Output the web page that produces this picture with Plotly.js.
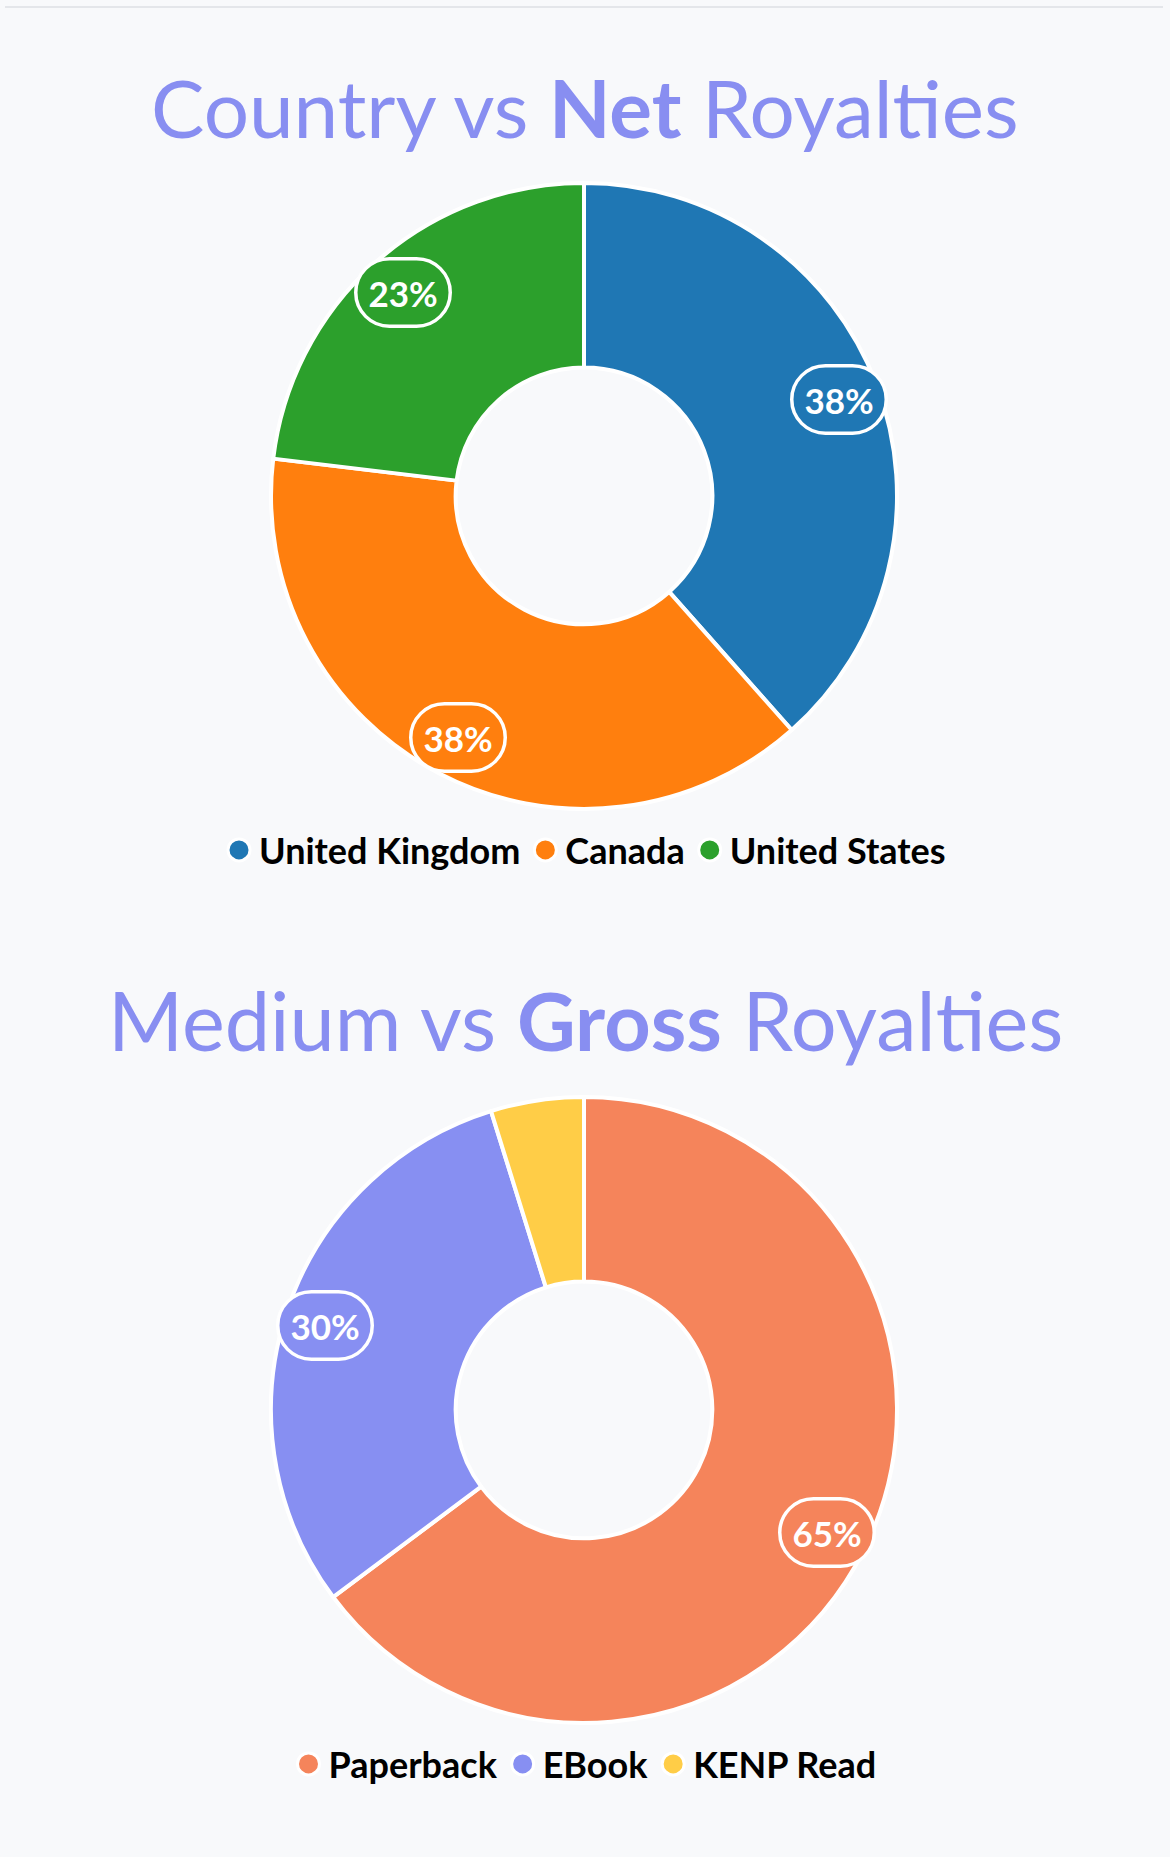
<!DOCTYPE html>
<html>
<head>
<meta charset="utf-8">
<script src="https://cdn.plot.ly/plotly-3.0.1.min.js"></script>
<style>
  html, body { margin: 0; padding: 0; background: #f8f9fb; }
</style>
</head>
<body>
<div id="myDiv"></div>
<script>
// chart data
var countryLabels = ["United Kingdom", "Canada", "United States"];
var countryValues = [38.45, 38.45, 23.1];
var countryColors = ["#1f77b4", "#ff7f0e", "#2ca02c"];

var mediumLabels = ["Paperback", "EBook", "KENP Read"];
var mediumValues = [64.8, 30.4, 4.8];
var mediumColors = ["#f5845b", "#878ff2", "#ffcd47"];

var W = 1170, H = 1857;
var FONT = "Lato, 'Noto Sans', sans-serif";
var TITLE_COLOR = "#888ef1";

var dom1 = { x: [0.2316, 0.7667], y: [0.5644, 0.9015] };
var dom2 = { x: [0.2316, 0.7667], y: [0.0722, 0.4093] };

function donut(labels, values, colors, domain) {
  return {
    type: "pie",
    labels: labels,
    values: values,
    hole: 0.41,
    sort: false,
    direction: "clockwise",
    rotation: 0,
    domain: domain,
    textinfo: "none",
    hoverinfo: "label+percent",
    showlegend: false,
    marker: { colors: colors, line: { color: "#ffffff", width: 4 } },
  };
}

// legend entries with round markers (pie legends only draw squares)
function legendTraces(labels, colors, legendId) {
  return labels.map(function (name, i) {
    return {
      type: "scatter",
      mode: "markers",
      x: [null],
      y: [null],
      name: name,
      legend: legendId,
      hoverinfo: "skip",
      marker: { size: 16, color: colors[i], line: { color: "#ffffff", width: 3 } },
    };
  });
}

// pill labels placed on the slice's mid angle, near the outer edge
function sliceLabels(values, colors, domain, minPct) {
  var total = values.reduce(function (a, b) { return a + b; }, 0);
  var cx = (domain.x[0] + domain.x[1]) / 2 * W;
  var cy = (1 - (domain.y[0] + domain.y[1]) / 2) * H;
  var R = Math.min((domain.x[1] - domain.x[0]) * W, (domain.y[1] - domain.y[0]) * H) / 2;
  var r = R * 0.87;
  var out = [];
  var cum = 0;
  values.forEach(function (v, i) {
    var pct = v / total;
    var theta = 2 * Math.PI * (cum + pct / 2);
    cum += pct;
    if (pct * 100 < minPct) return;
    out.push({
      xref: "paper",
      yref: "paper",
      x: (cx + r * Math.sin(theta)) / W,
      y: 1 - (cy - r * Math.cos(theta)) / H,
      xanchor: "center",
      yanchor: "middle",
      showarrow: false,
      text: "<b>" + Math.round(pct * 100) + "%</b>",
      font: { family: FONT, size: 35, color: "#ffffff" },
      bgcolor: colors[i],
      bordercolor: "#ffffff",
      borderwidth: 3.5,
      borderpad: 11,
    });
  });
  return out;
}

function title(text, yPx, size) {
  return {
    xref: "paper",
    yref: "paper",
    x: 0.5,
    y: 1 - yPx / H,
    xanchor: "center",
    yanchor: "middle",
    showarrow: false,
    text: text,
    font: { family: FONT, size: size, color: TITLE_COLOR },
  };
}

var data = [
  donut(countryLabels, countryValues, countryColors, dom1),
  donut(mediumLabels, mediumValues, mediumColors, dom2),
]
  .concat(legendTraces(countryLabels, countryColors, "legend"))
  .concat(legendTraces(mediumLabels, mediumColors, "legend2"));

var legendFont = { family: FONT, size: 36, color: "#000000", weight: 700 };

var layout = {
  width: W,
  height: H,
  margin: { l: 0, r: 0, t: 0, b: 0 },
  paper_bgcolor: "#f8f9fb",
  plot_bgcolor: "rgba(0,0,0,0)",
  xaxis: { visible: false, fixedrange: true },
  yaxis: { visible: false, fixedrange: true },
  legend: {
    orientation: "h",
    x: 0.5,
    xanchor: "center",
    y: 1 - 850 / H,
    yanchor: "middle",
    bgcolor: "rgba(0,0,0,0)",
    font: legendFont,
  },
  legend2: {
    orientation: "h",
    x: 0.5,
    xanchor: "center",
    y: 1 - 1764 / H,
    yanchor: "middle",
    bgcolor: "rgba(0,0,0,0)",
    font: legendFont,
  },
  shapes: [
    {
      type: "line",
      xref: "paper",
      yref: "paper",
      x0: 5 / W,
      x1: 1163 / W,
      y0: 1 - 7 / H,
      y1: 1 - 7 / H,
      line: { color: "#e4e6ea", width: 2 },
    },
  ],
  annotations: [
    title("Country vs <b>Net</b> Royalties", 107, 80),
    title("Medium vs <b>Gross</b> Royalties", 1020, 81),
  ]
    .concat(sliceLabels(countryValues, countryColors, dom1, 8))
    .concat(sliceLabels(mediumValues, mediumColors, dom2, 8)),
};

var config = { displayModeBar: false };

Plotly.newPlot("myDiv", data, layout, config).then(function () {
  // round the label boxes into pills
  document.querySelectorAll(".annotation rect.bg").forEach(function (rect) {
    var h = parseFloat(rect.getAttribute("height")) || 0;
    rect.setAttribute("rx", h / 2);
    rect.setAttribute("ry", h / 2);
  });
  // legend dots are capped in size by plotly, draw them a bit larger
  document.querySelectorAll(".legendpoints path.scatterpts").forEach(function (p) {
    p.setAttribute("d", "M11,0A11,11 0 1,1 0,-11A11,11 0 0,1 11,0Z");
    p.style.strokeWidth = "3px";
  });
});
</script>
</body>
</html>
